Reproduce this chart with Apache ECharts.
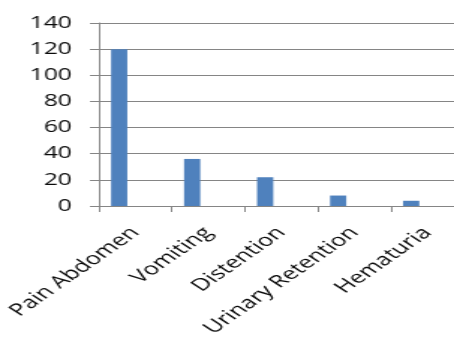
<!DOCTYPE html>
<html>
<head>
<meta charset="utf-8">
<script src="https://cdn.jsdelivr.net/npm/echarts@6/dist/echarts.min.js"></script>
<style>
  html, body { margin: 0; padding: 0; background: #fff; overflow: hidden; }
  #wrap { width: 454px; height: 338px; overflow: hidden; }
  /* chart drawn at a narrower width, then widened horizontally */
  #chart { width: 303px; height: 338px; transform: scaleX(1.4983); transform-origin: 0 0; }
</style>
</head>
<body>
<div id="wrap"><div id="chart"></div></div>
<script>
const categories = ['Pain Abdomen', 'Vomiting', 'Distention', 'Urinary Retention', 'Hematuria'];
const complaintCounts = [120, 36, 22, 8, 4];
// two further series slots in the source workbook hold no values
const series2Values = [];
const series3Values = [];
const yTicks = { min: 0, max: 140, interval: 20 };

const axisGray = '#858585';
const font = '"Open Sans", "Liberation Sans", sans-serif';

const chart = echarts.init(document.getElementById('chart'), null, { renderer: 'canvas' });
chart.setOption({
  animation: false,
  grid: {
    left: 66, top: 23, bottom: 132, width: 243.6,
    containLabel: false, outerBoundsMode: 'none'
  },
  xAxis: {
    type: 'category',
    data: categories,
    boundaryGap: true,
    axisLine: { show: true, lineStyle: { color: axisGray, width: 1 } },
    axisTick: { show: true, length: 6, alignWithLabel: false, lineStyle: { color: axisGray } },
    axisLabel: {
      interval: 0, rotate: 46, margin: 24,
      color: '#0a0a0a', fontFamily: font, fontSize: 17
    },
    splitLine: { show: false }
  },
  yAxis: {
    type: 'value',
    min: yTicks.min, max: yTicks.max, interval: yTicks.interval,
    axisLine: { show: true, lineStyle: { color: axisGray, width: 1 } },
    axisTick: { show: true, length: 6, lineStyle: { color: axisGray } },
    axisLabel: { margin: 18, color: '#0a0a0a', fontFamily: font, fontSize: 16.5 },
    splitLine: { show: true, lineStyle: { color: axisGray, width: 1 } }
  },
  series: [
    { name: 'Series1', type: 'bar', data: complaintCounts, barGap: '0%', barCategoryGap: '33.3%',
      itemStyle: { color: '#4F81BD' } },
    { name: 'Series2', type: 'bar', data: series2Values, itemStyle: { color: '#C0504D' } },
    { name: 'Series3', type: 'bar', data: series3Values, itemStyle: { color: '#9BBB59' } }
  ]
});
</script>
</body>
</html>
